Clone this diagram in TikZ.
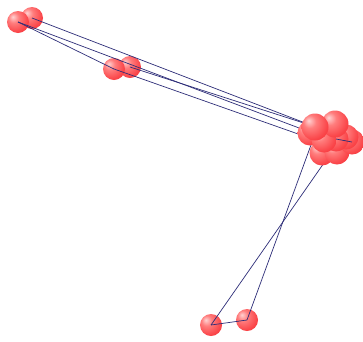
\documentclass[tikz,border=0pt]{standalone}
\pgfdeclareradialshading{sph}{\pgfqpoint{-12bp}{12bp}}{%
color(0bp)=(rgb,255:red,255;green,210;blue,210);
color(12bp)=(rgb,255:red,255;green,125;blue,125);
color(30bp)=(rgb,255:red,250;green,68;blue,72);
color(50bp)=(rgb,255:red,235;green,42;blue,50);
color(70bp)=(rgb,255:red,222;green,35;blue,42)}
\definecolor{bond}{RGB}{45,45,120}
\begin{document}
\begin{tikzpicture}[x=1pt,y=-1pt,
  atom/.style={circle,minimum size=22pt,inner sep=0pt,shading=sph},
  big/.style={atom,minimum size=25pt},
  bondline/.style={draw=bond,line width=0.7pt}]
\useasboundingbox[fill=white] (0,0) rectangle (363,341);
% atoms (top-left, middle, bottom)
\node[atom] (B) at (32,18) {};
\node[atom] (A) at (18,22) {};
\node[atom] (D) at (130,67) {};
\node[atom] (C) at (114,69) {};
\node[atom] (F) at (247,320) {};
\node[atom] (E) at (211,325) {};
% cluster coordinates
\coordinate (k1) at (313,126);
\coordinate (k3) at (315,134);
\coordinate (k4) at (318,141);
\coordinate (k8) at (333,150);
% bonds
\draw[bondline] (A.center) -- (C.center);
\draw[bondline] (B.center) -- (k1);
\draw[bondline] (A.center) -- (k3);
\draw[bondline] (D.center) -- (k1);
\draw[bondline] (C.center) -- (k4);
\draw[bondline] (E.center) -- (F.center);
\draw[bondline] (F.center) -- (k3);
\draw[bondline] (E.center) -- (k8);
% cluster atoms
\node[big] (K9) at (310,133) {};
\node[big] (K7) at (322,153) {};
\node[big] (K8) at (337,152) {};
\node[big] (K6) at (352,142) {};
\node[big] (K10) at (346,137) {};
\node[big] (K5) at (336,139) {};
\node[big] (K4) at (324,140) {};
\node[big,minimum size=27pt] (K2) at (335,124) {};
\node[big,minimum size=27pt] (K1) at (315,127) {};
\draw[bondline] (K5.center) -- (K6.center);
\end{tikzpicture}
\end{document}
